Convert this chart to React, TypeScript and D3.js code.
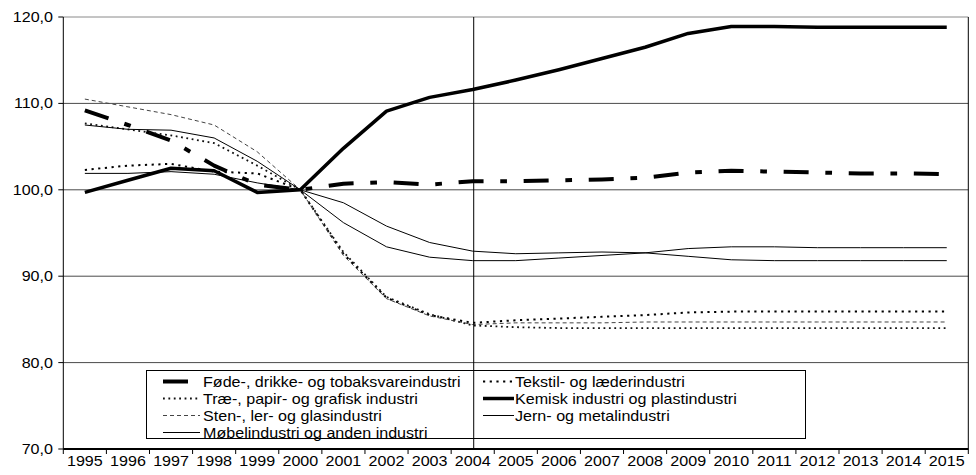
import React from "react";
import * as d3 from "d3";

const years = ["1995","1996","1997","1998","1999","2000","2001","2002","2003","2004","2005","2006","2007","2008","2009","2010","2011","2012","2013","2014","2015"];
const yTicks = [70, 80, 90, 100, 110, 120];

const fode = [109.2, 107.5, 105.7, 102.8, 100.6, 100.0, 100.7, 100.9, 100.6, 101.0, 101.0, 101.1, 101.2, 101.4, 102.0, 102.2, 102.1, 102.0, 101.9, 101.9, 101.8];
const tekstil = [102.3, 102.8, 103.0, 102.1, 101.9, 100.0, 92.6, 87.5, 85.5, 84.6, 84.9, 85.1, 85.3, 85.5, 85.8, 85.9, 85.9, 85.9, 85.9, 85.9, 85.9];
const trae = [107.7, 107.0, 106.3, 105.4, 102.8, 100.0, 92.8, 87.6, 85.6, 84.3, 84.1, 84.0, 84.0, 84.0, 84.0, 84.0, 84.0, 84.0, 84.0, 84.0, 84.0];
const sten = [110.5, 109.6, 108.7, 107.5, 104.4, 100.0, 92.4, 87.4, 85.4, 84.4, 84.6, 84.6, 84.6, 84.7, 84.7, 84.7, 84.7, 84.7, 84.7, 84.7, 84.7];
const kemisk = [99.7, 101.1, 102.5, 102.2, 99.7, 100.0, 104.8, 109.1, 110.7, 111.6, 112.7, 113.9, 115.2, 116.5, 118.1, 118.9, 118.9, 118.8, 118.8, 118.8, 118.8];
const jern = [107.5, 107.0, 106.9, 106.0, 103.3, 100.0, 96.2, 93.4, 92.2, 91.8, 91.8, 92.1, 92.4, 92.7, 93.2, 93.4, 93.4, 93.3, 93.3, 93.3, 93.3];
const mobel = [101.9, 101.9, 102.1, 101.8, 100.8, 100.0, 98.5, 95.8, 93.9, 92.9, 92.6, 92.7, 92.8, 92.7, 92.3, 91.9, 91.8, 91.8, 91.8, 91.8, 91.8];

const seriesNames = [
  "Føde-, drikke- og tobaksvareindustri",
  "Tekstil- og læderindustri",
  "Træ-, papir- og grafisk industri",
  "Sten-, ler- og glasindustri",
  "Kemisk industri og plastindustri",
  "Jern- og metalindustri",
  "Møbelindustri og anden industri",
];

const FONT = "'Liberation Sans', Arial, sans-serif";
const SX = 1.15;

export default function App() {
  const left = 63.3, right = 968.3, top = 17, bottom = 449;
  const x = d3.scaleBand<string>().domain(years).range([left, right]);
  const bw = x.bandwidth();
  const cx = (yr: string) => (x(yr) as number) + bw / 2;
  const y = d3.scaleLinear().domain([70, 120]).range([bottom, top]);

  const styles: Record<string, { stroke: string; w: number; dash?: string; cap?: string }> = {
    [seriesNames[0]]: { stroke: "#000", w: 4, dash: "25 16.7 6.7 16.7" },
    [seriesNames[1]]: { stroke: "#000", w: 2, dash: "2.2 4.5" },
    [seriesNames[2]]: { stroke: "#111", w: 1.8, dash: "1.8 3.6" },
    [seriesNames[3]]: { stroke: "#444", w: 1, dash: "4 3" },
    [seriesNames[4]]: { stroke: "#000", w: 3.5 },
    [seriesNames[5]]: { stroke: "#000", w: 1 },
    [seriesNames[6]]: { stroke: "#000", w: 1 },
  };
  const data: [string, number[]][] = [
    [seriesNames[0], fode],
    [seriesNames[1], tekstil],
    [seriesNames[2], trae],
    [seriesNames[3], sten],
    [seriesNames[5], jern],
    [seriesNames[6], mobel],
    [seriesNames[4], kemisk],
  ];

  const line = d3
    .line<number>()
    .x((_, i) => cx(years[i]))
    .y((d) => y(d));

  const legendCols = [
    { sx1: 163, sx2: 200, tx: 203, items: [seriesNames[0], seriesNames[2], seriesNames[3], seriesNames[6]] },
    { sx1: 483, sx2: 514, tx: 515, items: [seriesNames[1], seriesNames[4], seriesNames[5]] },
  ];
  const rowBase = [386.5, 403.5, 420.5, 437.5];

  return (
    <svg
      width={976}
      height={475}
      style={{ position: "fixed", left: 0, top: 0, background: "#fff" }}
      fontFamily={FONT}
    >
      <rect x={0} y={0} width={976} height={475} fill="#fff" />
      {/* gridlines */}
      {yTicks.filter((t) => t > 70 && t < 120).map((t) => (
        <line key={t} x1={left} x2={right} y1={y(t)} y2={y(t)} stroke="#4a4a4a" strokeWidth={1} />
      ))}
      <line x1={left} x2={right} y1={y(120)} y2={y(120)} stroke="#8a8a8a" strokeWidth={1} />
      <line x1={right} x2={right} y1={top} y2={bottom} stroke="#000" strokeWidth={1} />

      {/* series */}
      {data.map(([name, vals]) => {
        const s = styles[name];
        return (
          <path
            key={name}
            d={line(vals) as string}
            fill="none"
            stroke={s.stroke}
            strokeWidth={s.w}
            strokeDasharray={s.dash}
            strokeLinejoin="round"
          />
        );
      })}

      {/* legend */}
      <rect x={146.5} y={370.5} width={659} height={68} fill="#fff" stroke="#000" strokeWidth={1} />
      {legendCols.map((col, ci) =>
        col.items.map((name, ri) => {
          const s = styles[name];
          const by = rowBase[ri];
          return (
            <g key={ci + "-" + ri}>
              <line
                x1={col.sx1}
                x2={col.sx2}
                y1={by - 5}
                y2={by - 5}
                stroke={s.stroke}
                strokeWidth={s.w}
                strokeDasharray={s.dash}
              />
              <text transform={`translate(${col.tx},${by}) scale(${SX},1)`} fontSize={14} fill="#000">
                {name}
              </text>
            </g>
          );
        })
      )}

      {/* vertical marker at 2004 */}
      <line x1={cx("2004") + 1} x2={cx("2004") + 1} y1={top} y2={bottom} stroke="#000" strokeWidth={1} />

      {/* y axis */}
      <line x1={left} x2={left} y1={top} y2={bottom} stroke="#000" strokeWidth={1} />
      {yTicks.map((t) => (
        <g key={t}>
          <line x1={left - 5} x2={left} y1={y(t)} y2={y(t)} stroke="#000" strokeWidth={1} />
          <text
            transform={`translate(53,${y(t) + 5}) scale(${SX},1)`}
            fontSize={14}
            textAnchor="end"
            fill="#000"
          >
            {t.toFixed(1).replace(".", ",")}
          </text>
        </g>
      ))}

      {/* x axis */}
      <line x1={left} x2={right} y1={bottom} y2={bottom} stroke="#000" strokeWidth={2} />
      {years.map((yr) => (
        <line key={"t" + yr} x1={x(yr) as number} x2={x(yr) as number} y1={bottom} y2={bottom + 5} stroke="#000" strokeWidth={1} />
      ))}
      <line x1={right} x2={right} y1={bottom} y2={bottom + 5} stroke="#000" strokeWidth={1} />
      {years.map((yr) => (
        <text
          key={yr}
          transform={`translate(${cx(yr)},466) scale(${SX},1)`}
          fontSize={14}
          textAnchor="middle"
          fill="#000"
        >
          {yr}
        </text>
      ))}
    </svg>
  );
}
